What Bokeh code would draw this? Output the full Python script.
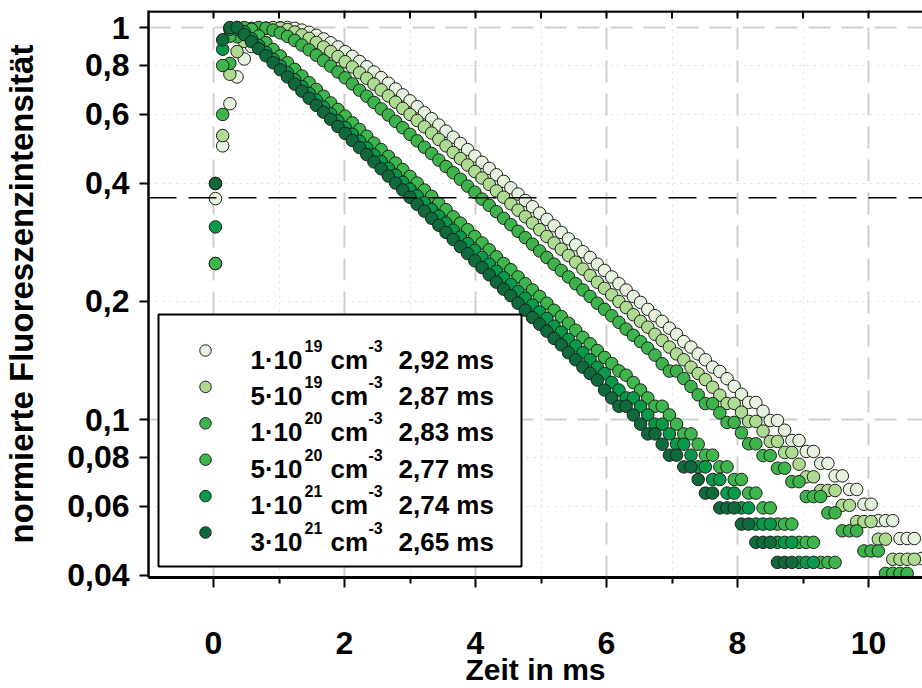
from bokeh.plotting import figure
from bokeh.models import Range1d, FixedTicker, CustomJSTickFormatter, Span
from bokeh.core.properties import value
from bokeh.embed import file_html
from bokeh.resources import INLINE

# time grid (ms)
T = [0.03, 0.14, 0.25, 0.36, 0.47, 0.58, 0.69, 0.80, 0.91, 1.02, 1.13, 1.24, 1.35, 1.46, 1.57,
     1.68, 1.79, 1.90, 2.01, 2.12, 2.23, 2.34, 2.45, 2.56, 2.67, 2.78, 2.89, 3.00, 3.11, 3.22,
     3.33, 3.44, 3.55, 3.66, 3.77, 3.88, 3.99, 4.10, 4.21, 4.32, 4.43, 4.54, 4.65, 4.76, 4.87,
     4.98, 5.09, 5.20, 5.31, 5.42, 5.53, 5.64, 5.75, 5.86, 5.97, 6.08, 6.19, 6.30, 6.41, 6.52,
     6.63, 6.74, 6.85, 6.96, 7.07, 7.18, 7.29, 7.40, 7.51, 7.62, 7.73, 7.84, 7.95, 8.06, 8.17,
     8.28, 8.39, 8.50, 8.61, 8.72, 8.83, 8.94, 9.05, 9.16, 9.27, 9.38, 9.49, 9.60, 9.71, 9.82,
     9.93, 10.04, 10.15, 10.26, 10.37, 10.48, 10.59, 10.70, 10.81]

S_1e19 = [0.366, 0.499, 0.639, 0.748, 0.831, 0.894, 0.939, 0.970, 0.989, 0.998,
          1.0, 0.995, 0.985, 0.972, 0.955, 0.935, 0.914, 0.892, 0.868, 0.844,
          0.819, 0.794, 0.770, 0.745, 0.721, 0.697, 0.673, 0.650, 0.628, 0.606,
          0.585, 0.564, 0.544, 0.525, 0.506, 0.488, 0.470, 0.453, 0.437, 0.421,
          0.405, 0.390, 0.376, 0.362, 0.349, 0.336, 0.324, 0.312, 0.300, 0.289,
          0.279, 0.268, 0.259, 0.249, 0.240, 0.231, 0.222, 0.214, 0.206, 0.199,
          0.191, 0.184, 0.178, 0.171, 0.165, 0.158, 0.153, 0.147, 0.142, 0.136,
          0.1326, 0.1271, 0.1215, 0.1160, 0.1105, 0.1105, 0.1050, 0.0994, 0.0994, 0.0939,
          0.0884, 0.0884, 0.0829, 0.0829, 0.0773, 0.0773, 0.0718, 0.0718, 0.0663, 0.0663,
          0.0608, 0.0608, 0.0552, 0.0552, 0.0552, 0.0497, 0.0497, 0.0497, 0.0442]

S_5e19 = [0.40, 0.53, 0.76, 0.868, 0.922, 0.959, 0.983, 0.996, 1.0, 0.997,
          0.988, 0.974, 0.957, 0.938, 0.916, 0.892, 0.868, 0.843, 0.818, 0.793,
          0.767, 0.742, 0.717, 0.693, 0.669, 0.645, 0.622, 0.600, 0.579, 0.558,
          0.538, 0.518, 0.499, 0.480, 0.463, 0.446, 0.429, 0.413, 0.398, 0.383,
          0.369, 0.355, 0.342, 0.329, 0.317, 0.305, 0.293, 0.282, 0.272, 0.262,
          0.252, 0.242, 0.233, 0.224, 0.216, 0.208, 0.200, 0.193, 0.185, 0.178,
          0.172, 0.165, 0.159, 0.153, 0.147, 0.142, 0.136, 0.131, 0.1264, 0.1209,
          0.1154, 0.1099, 0.1099, 0.1044, 0.0989, 0.0989, 0.0934, 0.0879, 0.0879, 0.0824,
          0.0824, 0.0769, 0.0714, 0.0714, 0.0659, 0.0659, 0.0659, 0.0604, 0.0604, 0.0549,
          0.0549, 0.0549, 0.0495, 0.0495, 0.0440, 0.0440, 0.0440, 0.0440]

S_1e20 = [0.25, 0.60, 0.81, 0.947, 0.979, 0.995, 1.0, 0.996, 0.985, 0.969,
          0.949, 0.927, 0.902, 0.877, 0.850, 0.823, 0.797, 0.770, 0.744, 0.718,
          0.692, 0.668, 0.644, 0.620, 0.598, 0.576, 0.555, 0.534, 0.514, 0.495,
          0.477, 0.459, 0.442, 0.426, 0.410, 0.394, 0.380, 0.365, 0.352, 0.339,
          0.326, 0.314, 0.302, 0.291, 0.280, 0.269, 0.259, 0.249, 0.240, 0.231,
          0.222, 0.214, 0.206, 0.198, 0.191, 0.184, 0.177, 0.170, 0.164, 0.158,
          0.152, 0.146, 0.1387, 0.1329, 0.1329, 0.1272, 0.1214, 0.1156, 0.1098, 0.1098,
          0.1040, 0.0983, 0.0983, 0.0925, 0.0867, 0.0867, 0.0809, 0.0809, 0.0751, 0.0751,
          0.0694, 0.0694, 0.0636, 0.0636, 0.0636, 0.0578, 0.0578, 0.0520, 0.0520, 0.0520,
          0.0462, 0.0462, 0.0462, 0.0405, 0.0405, 0.0405, 0.0405]

S_5e20 = [0.25, 0.80, 0.95, 0.99, 1.0, 0.989, 0.951, 0.915, 0.879, 0.846,
          0.813, 0.782, 0.752, 0.723, 0.695, 0.668, 0.642, 0.618, 0.594, 0.571,
          0.549, 0.528, 0.507, 0.488, 0.469, 0.451, 0.434, 0.417, 0.401, 0.385,
          0.371, 0.356, 0.343, 0.329, 0.317, 0.305, 0.293, 0.282, 0.271, 0.260,
          0.250, 0.241, 0.231, 0.222, 0.214, 0.206, 0.198, 0.190, 0.183, 0.176,
          0.169, 0.162, 0.156, 0.150, 0.144, 0.139, 0.133, 0.1297, 0.1243, 0.1189,
          0.1135, 0.1081, 0.1081, 0.1027, 0.0973, 0.0919, 0.0919, 0.0865, 0.0811, 0.0811,
          0.0757, 0.0757, 0.0703, 0.0703, 0.0649, 0.0649, 0.0595, 0.0595, 0.0541, 0.0541,
          0.0541, 0.0486, 0.0486, 0.0486, 0.0432, 0.0432, 0.0432]

S_1e21 = [0.31, 0.88, 0.99, 1.0, 0.975, 0.936, 0.900, 0.864, 0.830, 0.798,
          0.766, 0.736, 0.707, 0.679, 0.653, 0.627, 0.602, 0.578, 0.556, 0.534,
          0.513, 0.493, 0.473, 0.455, 0.437, 0.420, 0.403, 0.387, 0.372, 0.357,
          0.343, 0.330, 0.317, 0.304, 0.292, 0.281, 0.270, 0.259, 0.249, 0.239,
          0.230, 0.221, 0.212, 0.204, 0.196, 0.188, 0.181, 0.173, 0.167, 0.160,
          0.154, 0.148, 0.142, 0.136, 0.131, 0.1243, 0.1189, 0.1135, 0.1135, 0.1081,
          0.1027, 0.0973, 0.0973, 0.0919, 0.0865, 0.0865, 0.0811, 0.0757, 0.0757, 0.0703,
          0.0703, 0.0649, 0.0649, 0.0595, 0.0595, 0.0541, 0.0541, 0.0541, 0.0486, 0.0486,
          0.0486, 0.0432, 0.0432, 0.0432]

S_3e21 = [0.40, 0.93, 1.0, 1.0, 0.959, 0.920, 0.883, 0.847, 0.813, 0.780,
          0.748, 0.717, 0.688, 0.660, 0.633, 0.608, 0.583, 0.559, 0.537, 0.515,
          0.494, 0.474, 0.454, 0.436, 0.418, 0.401, 0.385, 0.369, 0.354, 0.340,
          0.326, 0.313, 0.300, 0.288, 0.276, 0.265, 0.254, 0.244, 0.234, 0.224,
          0.215, 0.207, 0.198, 0.190, 0.182, 0.175, 0.168, 0.161, 0.155, 0.148,
          0.142, 0.136, 0.131, 0.126, 0.1189, 0.1135, 0.1081, 0.1081, 0.1027, 0.0973,
          0.0919, 0.0919, 0.0865, 0.0811, 0.0811, 0.0757, 0.0757, 0.0703, 0.0649, 0.0649,
          0.0595, 0.0595, 0.0595, 0.0541, 0.0541, 0.0486, 0.0486, 0.0486, 0.0432, 0.0432,
          0.0432]

SERIES = [S_1e19, S_5e19, S_1e20, S_5e20, S_1e21, S_3e21]
COLORS = ["#e6f4df", "#addb92", "#3cb44b", "#3db64c", "#079a48", "#0e6a3b"]
MANT = ["1", "5", "1", "5", "1", "3"]
EXPO = ["19", "19", "20", "20", "21", "21"]
TAU = ["2,92 ms", "2,87 ms", "2,83 ms", "2,77 ms", "2,74 ms", "2,65 ms"]

X_TICKS = [0, 2, 4, 6, 8, 10]
X_MINOR = [-1, 1, 3, 5, 7, 9]
X_TOP_TICKS = [-1, 0, 1, 2, 3, 4, 5, 6, 7, 8, 9, 10]
Y_TICKS = [0.04, 0.06, 0.08, 0.1, 0.2, 0.4, 0.6, 0.8, 1.0]
E_LINE = 0.3679

# ---- layout (pixel geometry of the frame) ----
W, H = 922, 688
FL, FR, FT, FB = 148, 922, 10, 577
X0PX, XPX = 213.0, 65.5
Y1PX, YPX = 27.0, 392.0


def xd(px):
    return (px - X0PX) / XPX


def yd(py):
    return 10 ** (-(py - Y1PX) / YPX)


FONT = "Liberation Sans"
NARROW = "'Liberation Sans Narrow', 'Arial Narrow', 'Liberation Sans', sans-serif"

p = figure(width=W, height=H, x_range=Range1d(xd(FL), xd(FR)),
           y_range=Range1d(yd(FB), yd(FT)), y_axis_type="log",
           output_backend="svg", toolbar_location=None,
           min_border_left=FL, min_border_right=0, min_border_top=FT,
           min_border_bottom=H - FB)
p.outline_line_color = None
p.background_fill_color = "white"
p.border_fill_color = "white"

xt = FixedTicker(ticks=X_TICKS, minor_ticks=X_MINOR)
yt = FixedTicker(ticks=Y_TICKS, minor_ticks=[])

xa = p.xaxis[0]
xa.ticker = xt
xa.axis_line_width = 3
xa.axis_line_color = "black"
xa.major_tick_line_width = 2
xa.minor_tick_line_width = 2
xa.major_tick_line_color = "black"
xa.minor_tick_line_color = "black"
xa.major_tick_out = 10
xa.major_tick_in = 0
xa.minor_tick_out = 6
xa.minor_tick_in = 0
xa.major_label_standoff = 44
xa.major_label_text_font = NARROW
xa.major_label_text_font_style = "bold"
xa.major_label_text_font_size = "32px"
xa.major_label_text_color = "black"
xa.axis_label = "Zeit in ms"
xa.axis_label_text_font = FONT
xa.axis_label_text_font_style = "bold"
xa.axis_label_text_font_size = "30px"
xa.axis_label_text_color = "black"
xa.axis_label_standoff = -4

ya = p.yaxis[0]
ya.ticker = yt
ya.formatter = CustomJSTickFormatter(code="return tick.toString().replace('.', ',');")
ya.axis_line_width = 2.5
ya.axis_line_color = "black"
ya.major_tick_line_width = 2
ya.major_tick_line_color = "black"
ya.major_tick_out = 9
ya.major_tick_in = 0
ya.minor_tick_out = 0
ya.minor_tick_in = 0
ya.major_label_standoff = 10
ya.major_label_text_font = FONT
ya.major_label_text_font_style = "bold"
ya.major_label_text_font_size = "32px"
ya.major_label_text_color = "black"
ya.axis_label = "normierte Fluoreszenzintensität"
ya.axis_label_text_font = FONT
ya.axis_label_text_font_style = "bold"
ya.axis_label_text_font_size = "33px"
ya.axis_label_text_color = "black"
ya.axis_label_standoff = 24

p.xgrid.ticker = xt
p.xgrid.grid_line_color = "#cfcfcf"
p.xgrid.grid_line_width = 2
p.xgrid.grid_line_dash = "22 11"
p.xgrid.minor_grid_line_color = "#dedede"
p.xgrid.minor_grid_line_width = 1
p.xgrid.minor_grid_line_dash = "2 5"

p.ygrid.ticker = FixedTicker(ticks=[0.1, 1.0], minor_ticks=[0.06, 0.08, 0.2, 0.4, 0.6, 0.8])
p.ygrid.grid_line_color = "#cfcfcf"
p.ygrid.grid_line_width = 2
p.ygrid.grid_line_dash = "22 11"
p.ygrid.minor_grid_line_color = "#dedede"
p.ygrid.minor_grid_line_width = 1
p.ygrid.minor_grid_line_dash = "2 5"

# top frame line with inward ticks
p.add_layout(Span(location=yd(FT + 1), dimension="width", line_color="black", line_width=2.5))
p.segment(x0=X_TOP_TICKS, y0=[yd(FT)] * len(X_TOP_TICKS), x1=X_TOP_TICKS,
          y1=[yd(FT + 8)] * len(X_TOP_TICKS), line_color="black", line_width=2)

p.add_layout(Span(location=E_LINE, dimension="width", line_color="black",
                  line_width=1.6, line_dash="28 12"))

for vals, col in zip(SERIES, COLORS):
    p.scatter(T[:len(vals)], vals, size=12.5, fill_color=col, line_color="#1e1e1e",
              line_width=1)

# ---- legend drawn by hand (superscripts) ----
p.quad(left=[xd(158)], right=[xd(521)], top=[yd(314)], bottom=[yd(566)],
       fill_color="white", line_color="black", line_width=2)
rows = [350 + 36.4 * i for i in range(len(SERIES))]
p.scatter([xd(205)] * len(rows), [yd(r) for r in rows], size=11.5, fill_color=COLORS,
          line_color="#1e1e1e", line_width=1)

main_kw = dict(text_font=value(FONT), text_font_style="bold", text_font_size="26px",
               text_align="left", text_baseline="alphabetic", text_color="black")
sup_kw = dict(text_font=value(FONT), text_font_style="bold", text_font_size="16px",
              text_align="left", text_baseline="alphabetic", text_color="black")
base = [yd(r + 9) for r in rows]
supb = [yd(r - 5) for r in rows]
n = len(rows)
p.text([xd(250)] * n, base, text=[m + "·10" for m in MANT], **main_kw)
p.text([xd(304)] * n, supb, text=EXPO, **sup_kw)
p.text([xd(330)] * n, base, text=["cm"] * n, **main_kw)
p.text([xd(368)] * n, supb, text=["-3"] * n, **sup_kw)
p.text([xd(398)] * n, base, text=TAU, **main_kw)

open("out.html", "w").write(file_html(p, INLINE))
